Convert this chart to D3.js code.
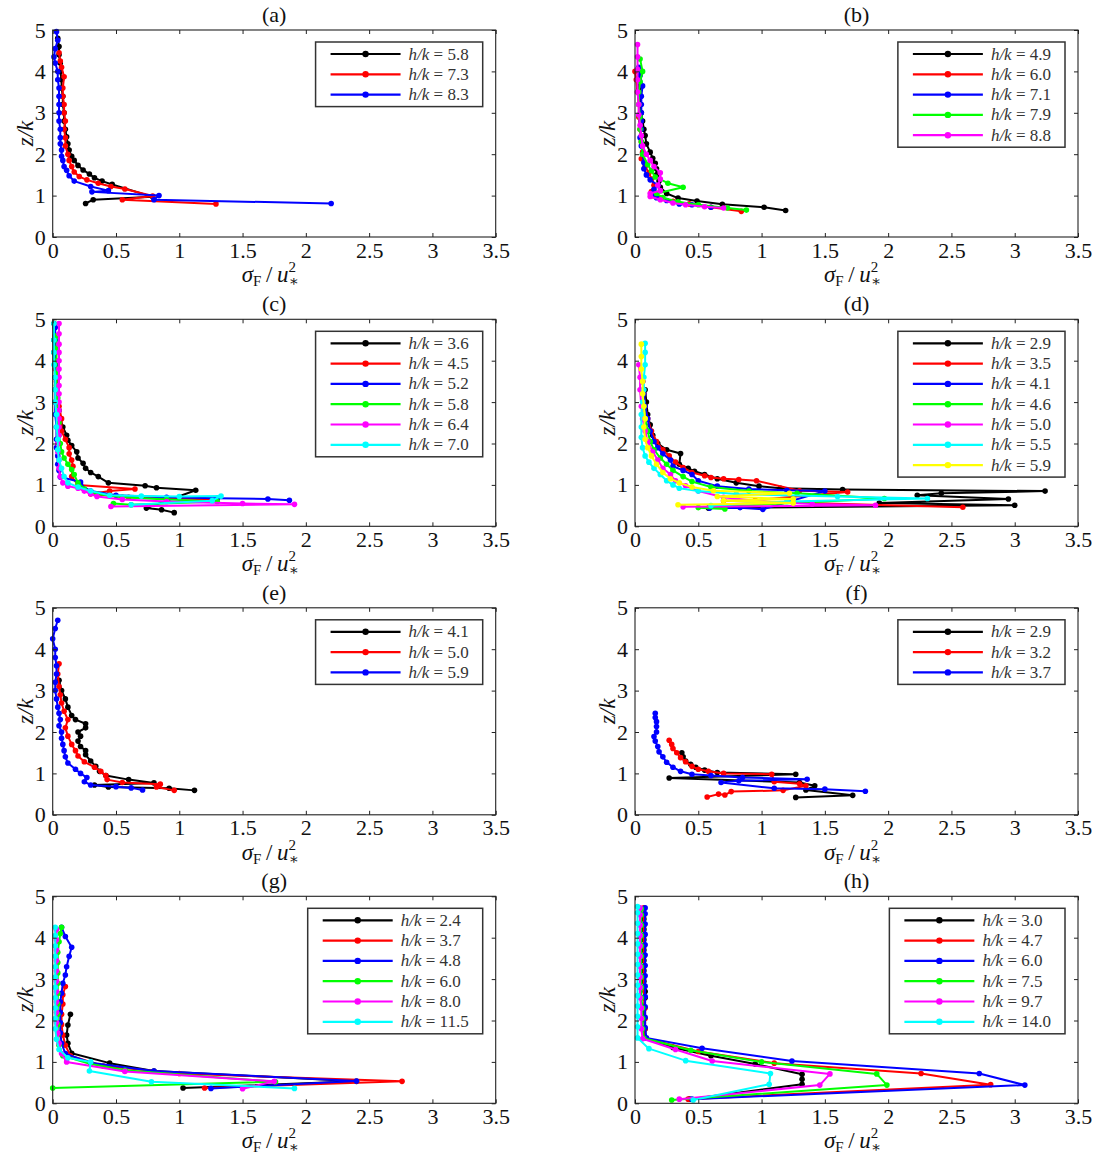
<!DOCTYPE html>
<html><head><meta charset="utf-8">
<script src="https://cdn.jsdelivr.net/npm/d3@7/dist/d3.min.js"></script>
<style>body{margin:0;background:#fff} text{font-family:"Liberation Serif","DejaVu Serif",serif}</style>
</head><body>
<svg id="chart" width="1102" height="1156"></svg>
<script>
const colors = ["#000000","#ff0000","#0000ff","#00ff00","#ff00ff","#00ffff","#ffff00"];
const xTicks = [0,0.5,1,1.5,2,2.5,3,3.5];
const yTicks = [0,1,2,3,4,5];
const letters = ["a","b","c","d","e","f","g","h"];

const hkA = ["5.8","7.3","8.3"];
const hkB = ["4.9","6.0","7.1","7.9","8.8"];
const hkC = ["3.6","4.5","5.2","5.8","6.4","7.0"];
const hkD = ["2.9","3.5","4.1","4.6","5.0","5.5","5.9"];
const hkE = ["4.1","5.0","5.9"];
const hkF = ["2.9","3.2","3.7"];
const hkG = ["2.4","3.7","4.8","6.0","8.0","11.5"];
const hkH = ["3.0","4.7","6.0","7.5","9.7","14.0"];

// [sigma_F/u*^2, z/k]
const a1 = [[0.26,0.81],[0.32,0.9],[0.79,0.97],[0.47,1.27],[0.39,1.35],[0.33,1.43],[0.29,1.52],[0.24,1.62],[0.2,1.73],[0.17,1.85],[0.15,1.95],[0.13,2.1],[0.12,2.25],[0.11,2.42],[0.1,2.6],[0.09,2.8],[0.09,3.0],[0.08,3.2],[0.08,3.4],[0.07,3.6],[0.07,3.8],[0.06,4.0],[0.06,4.2],[0.05,4.4],[0.05,4.6],[0.04,4.8]];
const a2 = [[1.29,0.8],[0.55,0.9],[0.79,0.99],[0.57,1.16],[0.46,1.22],[0.36,1.3],[0.27,1.38],[0.21,1.46],[0.17,1.57],[0.15,1.7],[0.13,1.85],[0.12,2.0],[0.1,2.2],[0.1,2.4],[0.09,2.6],[0.1,2.8],[0.09,3.0],[0.09,3.2],[0.08,3.4],[0.08,3.6],[0.09,3.87],[0.07,4.1],[0.06,4.25],[0.05,4.45]];
const a3 = [[2.2,0.81],[0.8,0.9],[0.84,1.0],[0.31,1.09],[0.44,1.12],[0.3,1.22],[0.17,1.35],[0.13,1.48],[0.11,1.61],[0.09,1.7],[0.08,1.85],[0.07,1.95],[0.07,2.1],[0.06,2.25],[0.06,2.4],[0.06,2.6],[0.05,2.8],[0.05,3.0],[0.05,3.2],[0.05,3.4],[0.05,3.6],[0.04,3.8],[0.04,4.0],[0.02,4.2],[0.01,4.35],[0.02,4.55],[0.04,4.75],[0.03,4.96]];

const b1 = [[1.19,0.64],[1.02,0.72],[0.69,0.79],[0.49,0.87],[0.34,0.94],[0.25,1.05],[0.2,1.2],[0.19,1.35],[0.17,1.5],[0.17,1.65],[0.16,1.78],[0.14,1.9],[0.12,2.05],[0.09,2.25],[0.08,2.45],[0.07,2.6],[0.06,2.8],[0.05,3.0],[0.04,3.2],[0.04,3.4],[0.03,3.6],[0.03,3.8]];
const b2 = [[0.84,0.62],[0.6,0.72],[0.43,0.8],[0.3,0.86],[0.2,0.93],[0.14,1.0],[0.13,1.1],[0.15,1.25],[0.13,1.4],[0.11,1.55],[0.08,1.7],[0.05,1.89],[0.06,2.05],[0.05,2.3],[0.04,2.6],[0.03,2.9],[0.03,3.2],[0.02,3.5],[0.01,3.8],[0.0,4.0]];
const b3 = [[0.6,0.72],[0.45,0.78],[0.35,0.8],[0.25,0.88],[0.17,0.95],[0.13,1.03],[0.15,1.15],[0.18,1.25],[0.12,1.38],[0.09,1.5],[0.07,1.65],[0.07,1.8],[0.06,2.0],[0.05,2.2],[0.04,2.4],[0.05,2.6],[0.05,2.8],[0.05,3.0],[0.05,3.2],[0.05,3.4],[0.06,3.65],[0.04,3.9],[0.03,4.1]];
const b4 = [[0.88,0.65],[0.73,0.7],[0.5,0.78],[0.34,0.85],[0.22,0.95],[0.17,1.05],[0.38,1.2],[0.26,1.3],[0.16,1.45],[0.13,1.6],[0.1,1.75],[0.06,2.0],[0.05,2.3],[0.04,2.6],[0.04,2.9],[0.03,3.2],[0.03,3.5],[0.04,3.75],[0.06,4.0],[0.04,4.3]];
const b5 = [[0.7,0.7],[0.55,0.73],[0.4,0.78],[0.3,0.82],[0.2,0.9],[0.12,0.98],[0.12,1.05],[0.2,1.12],[0.18,1.25],[0.2,1.4],[0.2,1.55],[0.15,1.7],[0.12,1.85],[0.09,2.0],[0.06,2.2],[0.05,2.45],[0.04,2.7],[0.03,2.95],[0.03,3.2],[0.02,3.5],[0.02,3.8],[0.02,4.05],[0.02,4.35],[0.02,4.65]];

const c1 = [[0.96,0.33],[0.86,0.4],[0.74,0.44],[1.13,0.87],[0.82,0.93],[0.73,0.98],[0.44,1.05],[0.36,1.2],[0.3,1.3],[0.26,1.4],[0.24,1.52],[0.2,1.65],[0.19,1.8],[0.15,1.95],[0.12,2.08],[0.11,2.2],[0.08,2.4],[0.06,2.6],[0.05,2.8],[0.04,3.0],[0.03,3.3],[0.02,3.6],[0.02,3.9],[0.01,4.2],[0.01,4.5],[0.01,4.9]];
const c2 = [[1.3,0.65],[0.6,0.7],[0.3,0.78],[0.45,0.85],[0.65,0.9],[0.2,1.0],[0.15,1.2],[0.16,1.45],[0.15,1.6],[0.13,1.75],[0.13,1.9],[0.1,2.1],[0.07,2.3],[0.07,2.6],[0.05,2.9],[0.04,3.2],[0.03,3.5],[0.02,3.8],[0.02,4.2],[0.02,4.6]];
const c3 = [[1.87,0.63],[1.7,0.66],[1.3,0.68],[0.9,0.7],[0.5,0.75],[0.3,0.85],[0.22,1.0],[0.22,1.07],[0.06,1.19],[0.05,1.35],[0.04,1.5],[0.04,1.7],[0.03,1.9],[0.03,2.1],[0.03,2.4],[0.02,2.7],[0.02,3.0],[0.02,3.3],[0.02,3.6],[0.02,3.9],[0.02,4.2],[0.02,4.5],[0.02,4.8]];
const c4 = [[0.48,0.55],[0.62,0.52],[1.3,0.6],[0.9,0.65],[0.55,0.7],[0.35,0.78],[0.25,0.9],[0.2,1.05],[0.17,1.25],[0.15,1.37],[0.12,1.5],[0.09,1.65],[0.07,1.8],[0.06,2.0],[0.05,2.2],[0.05,2.5],[0.04,2.8],[0.04,3.1],[0.03,3.4],[0.03,3.7],[0.03,4.0],[0.03,4.3],[0.03,4.6]];
const c5 = [[0.46,0.48],[1.91,0.53],[1.5,0.55],[0.9,0.6],[0.55,0.65],[0.35,0.72],[0.3,0.78],[0.25,0.85],[0.2,0.92],[0.12,0.97],[0.08,1.05],[0.06,1.2],[0.05,1.4],[0.05,1.6],[0.04,1.8],[0.04,2.0],[0.05,2.2],[0.05,2.4],[0.05,2.6],[0.05,2.8],[0.05,3.0],[0.05,3.2],[0.05,3.4],[0.05,3.6],[0.05,3.8],[0.05,4.0],[0.05,4.2],[0.05,4.4],[0.05,4.65],[0.05,4.9]];
const c6 = [[0.62,0.52],[1.26,0.62],[1.33,0.73],[1.0,0.72],[0.7,0.73],[0.45,0.75],[0.3,0.85],[0.2,0.95],[0.12,1.05],[0.09,1.2],[0.07,1.4],[0.05,1.6],[0.04,1.85],[0.04,2.1],[0.03,2.4],[0.03,2.7],[0.02,3.0],[0.02,3.3],[0.02,3.6],[0.01,3.9],[0.01,4.2],[0.01,4.5],[0.01,4.9]];

const d1 = [[0.58,0.44],[3.0,0.51],[1.93,0.56],[2.95,0.66],[2.23,0.75],[2.42,0.8],[3.24,0.85],[1.64,0.89],[1.15,0.92],[0.98,0.97],[0.8,1.05],[0.65,1.15],[0.55,1.25],[0.47,1.33],[0.42,1.4],[0.35,1.5],[0.36,1.76],[0.25,1.85],[0.18,2.0],[0.14,2.2],[0.12,2.45],[0.1,2.7],[0.09,3.0],[0.08,3.3]];
const d2 = [[2.59,0.46],[0.7,0.62],[0.95,0.63],[1.68,0.83],[1.3,0.86],[0.96,1.1],[0.82,1.13],[0.7,1.15],[0.6,1.18],[0.55,1.22],[0.45,1.3],[0.38,1.42],[0.32,1.55],[0.27,1.7],[0.22,1.85],[0.17,2.05],[0.13,2.3],[0.1,2.6],[0.08,2.9],[0.07,3.2],[0.06,3.5]];
const d3a = [[0.59,0.44],[0.83,0.45],[1.01,0.41],[1.5,0.85],[1.2,0.87],[0.9,0.9],[0.65,0.97],[0.5,1.1],[0.45,1.25],[0.38,1.35],[0.3,1.45],[0.28,1.6],[0.22,1.75],[0.18,1.9],[0.15,2.05],[0.12,2.3],[0.1,2.6],[0.08,2.9],[0.07,3.2],[0.06,3.5]];
const d4 = [[0.71,0.42],[0.5,0.45],[1.97,0.67],[1.28,0.8],[0.9,0.85],[0.6,0.95],[0.45,1.08],[0.38,1.2],[0.3,1.35],[0.25,1.5],[0.2,1.65],[0.15,1.85],[0.12,2.05],[0.1,2.3],[0.08,2.6],[0.07,2.9],[0.06,3.2]];
const d5 = [[0.38,0.47],[1.9,0.51],[1.4,0.54],[1.0,0.6],[0.7,0.7],[0.5,0.85],[0.4,0.98],[0.32,1.1],[0.28,1.25],[0.22,1.4],[0.18,1.6],[0.14,1.8],[0.1,2.05],[0.08,2.3],[0.06,2.6],[0.05,2.9],[0.04,3.3],[0.04,3.6],[0.03,3.9]];
const d6 = [[0.6,0.5],[1.2,0.6],[2.31,0.67],[1.6,0.72],[0.8,0.78],[0.5,0.85],[0.35,0.92],[0.3,1.0],[0.25,1.1],[0.2,1.25],[0.15,1.4],[0.11,1.55],[0.08,1.7],[0.06,1.9],[0.05,2.15],[0.05,2.4],[0.05,2.7],[0.06,3.0],[0.07,3.3],[0.07,3.6],[0.08,3.9],[0.08,4.2],[0.08,4.42]];
const d7 = [[0.34,0.52],[1.25,0.56],[0.7,0.62],[1.25,0.66],[0.65,0.72],[1.22,0.8],[0.62,0.86],[0.45,0.95],[0.35,1.05],[0.28,1.15],[0.22,1.3],[0.17,1.5],[0.13,1.7],[0.1,1.9],[0.08,2.1],[0.07,2.4],[0.08,2.6],[0.07,2.9],[0.06,3.2],[0.06,3.5],[0.05,3.8],[0.05,4.1],[0.05,4.4]];

const e1 = [[1.12,0.59],[0.92,0.64],[0.44,0.67],[0.33,0.72],[0.8,0.77],[0.6,0.85],[0.42,0.95],[0.37,1.05],[0.34,1.17],[0.3,1.3],[0.26,1.45],[0.26,1.55],[0.22,1.65],[0.2,1.78],[0.22,1.9],[0.2,2.0],[0.26,2.1],[0.26,2.2],[0.18,2.3],[0.15,2.4],[0.12,2.6],[0.1,2.8],[0.07,3.0],[0.05,3.25]];
const e2 = [[0.96,0.59],[0.82,0.67],[0.85,0.74],[0.55,0.78],[0.43,0.85],[0.42,0.95],[0.38,1.05],[0.33,1.15],[0.25,1.28],[0.2,1.42],[0.18,1.55],[0.15,1.7],[0.12,1.9],[0.1,2.1],[0.12,2.3],[0.09,2.5],[0.07,2.7],[0.06,2.9],[0.05,3.1],[0.04,3.4],[0.05,3.65]];
const e3 = [[0.71,0.6],[0.62,0.65],[0.5,0.68],[0.3,0.72],[0.25,0.8],[0.27,0.9],[0.22,1.0],[0.18,1.1],[0.12,1.25],[0.1,1.4],[0.09,1.55],[0.08,1.7],[0.07,1.85],[0.07,2.0],[0.05,2.15],[0.06,2.3],[0.05,2.45],[0.04,2.6],[0.03,2.8],[0.02,3.0],[0.02,3.2],[0.03,3.4],[0.03,3.6],[0.02,3.8],[0.02,4.0],[0.0,4.25],[0.02,4.5],[0.04,4.7]];

const f1 = [[1.27,0.42],[1.72,0.47],[1.35,0.6],[1.42,0.7],[1.3,0.78],[0.27,0.89],[1.27,0.98],[0.65,1.02],[0.55,1.08],[0.48,1.15],[0.44,1.22],[0.4,1.3],[0.38,1.4],[0.37,1.5]];
const f2 = [[0.57,0.43],[0.66,0.5],[0.71,0.48],[0.76,0.56],[1.17,0.59],[1.35,0.7],[1.3,0.75],[1.1,0.8],[1.08,0.98],[0.7,1.0],[0.58,1.05],[0.5,1.1],[0.45,1.17],[0.4,1.28],[0.36,1.38],[0.33,1.5],[0.3,1.6],[0.29,1.7],[0.27,1.8]];
const f3 = [[1.82,0.57],[1.5,0.62],[1.1,0.64],[0.68,0.78],[0.82,0.82],[1.36,0.86],[0.85,0.9],[0.6,0.95],[0.45,0.98],[0.36,1.05],[0.3,1.15],[0.25,1.27],[0.22,1.4],[0.19,1.52],[0.18,1.65],[0.16,1.78],[0.15,1.89],[0.17,2.0],[0.17,2.13],[0.17,2.25],[0.16,2.35],[0.16,2.45]];

const g1 = [[1.03,0.37],[2.4,0.53],[0.8,0.78],[0.45,0.97],[0.15,1.21],[0.12,1.45],[0.11,1.65],[0.12,1.89],[0.14,2.15]];
const g2 = [[1.2,0.37],[2.76,0.53],[1.0,0.72],[0.4,0.9],[0.14,1.15],[0.1,1.4],[0.08,1.65],[0.07,1.9],[0.07,2.15],[0.08,2.4],[0.08,2.62],[0.1,2.82]];
const g3 = [[1.25,0.36],[2.4,0.54],[0.8,0.78],[0.3,0.98],[0.1,1.2],[0.07,1.45],[0.06,1.7],[0.06,1.95],[0.06,2.2],[0.06,2.45],[0.07,2.66],[0.08,2.9],[0.1,3.1],[0.11,3.3],[0.13,3.55],[0.15,3.77],[0.1,4.03],[0.07,4.25]];
const g4 = [[0.0,0.37],[1.76,0.52],[0.57,0.8],[0.3,0.95],[0.08,1.15],[0.05,1.4],[0.04,1.65],[0.04,1.9],[0.04,2.15],[0.04,2.4],[0.04,2.65],[0.04,2.9],[0.04,3.15],[0.04,3.4],[0.04,3.65],[0.05,3.9],[0.06,4.1],[0.07,4.25]];
const g5 = [[1.5,0.35],[1.75,0.53],[0.57,0.77],[0.11,1.0],[0.07,1.2],[0.05,1.45],[0.04,1.7],[0.03,1.95],[0.03,2.2],[0.03,2.45],[0.03,2.7],[0.03,2.95],[0.03,3.2],[0.03,3.45],[0.03,3.7],[0.03,3.95],[0.03,4.2]];
const g6 = [[1.91,0.36],[0.78,0.52],[0.29,0.78],[0.3,1.0],[0.12,1.1],[0.05,1.3],[0.03,1.55],[0.02,1.8],[0.02,2.05],[0.02,2.3],[0.02,2.55],[0.02,2.8],[0.02,3.05],[0.02,3.3],[0.02,3.55],[0.02,3.8],[0.02,4.05],[0.02,4.25]];

const h1 = [[0.43,0.1],[1.32,0.46],[1.32,0.58],[1.32,0.7],[0.95,0.95],[0.6,1.15],[0.3,1.35],[0.08,1.57],[0.08,1.8],[0.07,2.05],[0.07,2.3],[0.08,2.55],[0.08,2.7],[0.07,2.95],[0.07,3.2],[0.07,3.45],[0.07,3.7],[0.07,3.95],[0.07,4.2],[0.07,4.45],[0.07,4.7]];
const h2 = [[0.42,0.1],[2.81,0.45],[2.26,0.72],[1.1,0.97],[0.5,1.25],[0.08,1.57],[0.08,1.8],[0.08,2.05],[0.08,2.3],[0.07,2.55],[0.07,2.8],[0.07,3.05],[0.07,3.3],[0.07,3.55],[0.07,3.8],[0.07,4.05],[0.07,4.3],[0.07,4.55],[0.07,4.72]];
const h3 = [[0.45,0.1],[3.08,0.44],[2.72,0.72],[1.24,1.02],[0.53,1.33],[0.09,1.58],[0.08,1.83],[0.08,2.08],[0.08,2.33],[0.08,2.58],[0.08,2.83],[0.08,3.08],[0.08,3.33],[0.08,3.58],[0.08,3.83],[0.08,4.08],[0.08,4.33],[0.08,4.58],[0.08,4.72]];
const h4 = [[0.29,0.08],[1.99,0.44],[1.91,0.71],[1.0,1.0],[0.44,1.28],[0.07,1.57],[0.06,1.8],[0.06,2.05],[0.06,2.3],[0.05,2.55],[0.05,2.8],[0.05,3.05],[0.05,3.3],[0.05,3.55],[0.05,3.8],[0.05,4.05],[0.05,4.3],[0.05,4.55],[0.05,4.7]];
const h5 = [[0.35,0.1],[1.46,0.44],[1.54,0.71],[0.61,1.02],[0.32,1.3],[0.06,1.56],[0.05,1.8],[0.05,2.05],[0.05,2.3],[0.04,2.55],[0.04,2.8],[0.04,3.05],[0.04,3.3],[0.04,3.55],[0.04,3.8],[0.04,4.05],[0.04,4.3],[0.04,4.55],[0.04,4.72]];
const h6 = [[0.46,0.08],[1.06,0.46],[1.07,0.72],[0.4,1.03],[0.11,1.32],[0.02,1.58],[0.02,1.85],[0.02,2.1],[0.02,2.35],[0.02,2.6],[0.02,2.85],[0.02,3.1],[0.02,3.35],[0.02,3.6],[0.02,3.85],[0.02,4.1],[0.02,4.35],[0.02,4.6],[0.02,4.75]];

const panels = [
  {hk: hkA, series: [a1,a2,a3]},
  {hk: hkB, series: [b1,b2,b3,b4,b5]},
  {hk: hkC, series: [c1,c2,c3,c4,c5,c6]},
  {hk: hkD, series: [d1,d2,d3a,d4,d5,d6,d7]},
  {hk: hkE, series: [e1,e2,e3]},
  {hk: hkF, series: [f1,f2,f3]},
  {hk: hkG, series: [g1,g2,g3,g4,g5,g6]},
  {hk: hkH, series: [h1,h2,h3,h4,h5,h6]}
];

const svg = d3.select("#chart");
const W = 443, H = 207;
const lefts = [52.7, 635];
const tops = [30, 319.3, 607.8, 896.3];
const serif = "Liberation Serif";

panels.forEach((p, idx) => {
  const col = idx % 2, row = Math.floor(idx / 2);
  const g = svg.append("g").attr("transform", `translate(${lefts[col]},${tops[row]})`);
  const x = d3.scaleLinear().domain([0, 3.5]).range([0, W]);
  const y = d3.scaleLinear().domain([0, 5]).range([H, 0]);

  const clipId = "clip" + idx;
  g.append("clipPath").attr("id", clipId).append("rect").attr("x", -4).attr("y", -4).attr("width", W + 8).attr("height", H + 8);
  const plot = g.append("g").attr("clip-path", `url(#${clipId})`);

  const line = d3.line().x(d => x(d[0])).y(d => y(d[1]));
  p.series.forEach((s, i) => {
    const sg = plot.append("g");
    sg.append("path").datum(s).attr("d", line).attr("fill", "none")
      .attr("stroke", colors[i]).attr("stroke-width", 2).attr("stroke-linejoin", "round");
    sg.selectAll("circle").data(s).enter().append("circle")
      .attr("cx", d => x(d[0])).attr("cy", d => y(d[1])).attr("r", 2.8).attr("fill", colors[i]);
  });

  const ax = g.append("g").attr("transform", `translate(0,${H})`)
    .call(d3.axisBottom(x).tickValues(xTicks).tickFormat(d => String(d)).tickSizeInner(-4).tickSizeOuter(0).tickPadding(5));
  const ay = g.append("g")
    .call(d3.axisLeft(y).tickValues(yTicks).tickFormat(d => String(d)).tickSizeInner(-4).tickSizeOuter(0).tickPadding(7));
  const at = g.append("g")
    .call(d3.axisTop(x).tickValues(xTicks).tickFormat("").tickSizeInner(-4).tickSizeOuter(0));
  const ar = g.append("g").attr("transform", `translate(${W},0)`)
    .call(d3.axisRight(y).tickValues(yTicks).tickFormat("").tickSizeInner(-4).tickSizeOuter(0));
  [ax, ay, at, ar].forEach(a => {
    a.attr("font-family", serif).attr("font-size", 22);
    a.select(".domain").remove();
    a.selectAll("line").attr("stroke", "#222").attr("stroke-width", 1);
    a.selectAll("text").attr("font-family", serif).attr("font-size", 22).attr("fill", "#111");
  });
  g.append("rect").attr("width", W).attr("height", H).attr("fill", "none").attr("stroke", "#222").attr("stroke-width", 1.1);

  g.append("text").attr("x", W / 2).attr("y", -8).attr("text-anchor", "middle")
    .attr("font-family", serif).attr("font-size", 22).attr("fill", "#111").text(`(${letters[idx]})`);

  const xl = g.append("text").attr("x", W / 2 - 4).attr("y", H + 45).attr("text-anchor", "middle")
    .attr("font-family", serif).attr("font-size", 23).attr("fill", "#111");
  xl.append("tspan").attr("font-style", "italic").text("σ");
  xl.append("tspan").attr("font-size", 15).attr("dy", 4).text("F");
  xl.append("tspan").attr("dy", -4).text("\u2009/\u2009");
  xl.append("tspan").attr("font-style", "italic").text("u");
  xl.append("tspan").attr("font-size", 15).attr("dy", -10).text("2");
  xl.append("tspan").attr("font-size", 15).attr("dx", -7.5).attr("dy", 14).text("∗");

  g.append("text").attr("transform", `translate(-28,${H / 2}) rotate(-90)`).attr("text-anchor", "middle")
    .attr("dy", "0.35em").attr("font-family", serif).attr("font-size", 23).attr("font-style", "italic")
    .attr("fill", "#111").text("z/k");

  const n = p.hk.length, rowH = 20.3;
  const lg = g.append("g");
  const box = lg.append("rect").attr("fill", "#fff").attr("stroke", "#333").attr("stroke-width", 1.5);
  let maxW = 0;
  const texts = [];
  p.hk.forEach((lab) => {
    const t = lg.append("text").attr("font-family", serif).attr("font-size", 17).attr("fill", "#333");
    t.append("tspan").attr("font-style", "italic").text("h/k");
    t.append("tspan").text(" = " + lab);
    texts.push(t);
    maxW = Math.max(maxW, t.node().getComputedTextLength());
  });
  const bw = 93 + maxW + 14, bh = 24 + (n - 1) * rowH;
  const bx = W - 13 - bw, by = 12;
  box.attr("x", bx).attr("y", by).attr("width", bw).attr("height", bh);
  p.hk.forEach((lab, i) => {
    const ry = by + 12 + i * rowH;
    lg.append("line").attr("x1", bx + 15).attr("x2", bx + 85).attr("y1", ry).attr("y2", ry)
      .attr("stroke", colors[i]).attr("stroke-width", 2.2);
    lg.append("circle").attr("cx", bx + 50).attr("cy", ry).attr("r", 3.2).attr("fill", colors[i]);
    texts[i].attr("x", bx + 93).attr("y", ry + 5.5);
  });
});
</script>
</body></html>
